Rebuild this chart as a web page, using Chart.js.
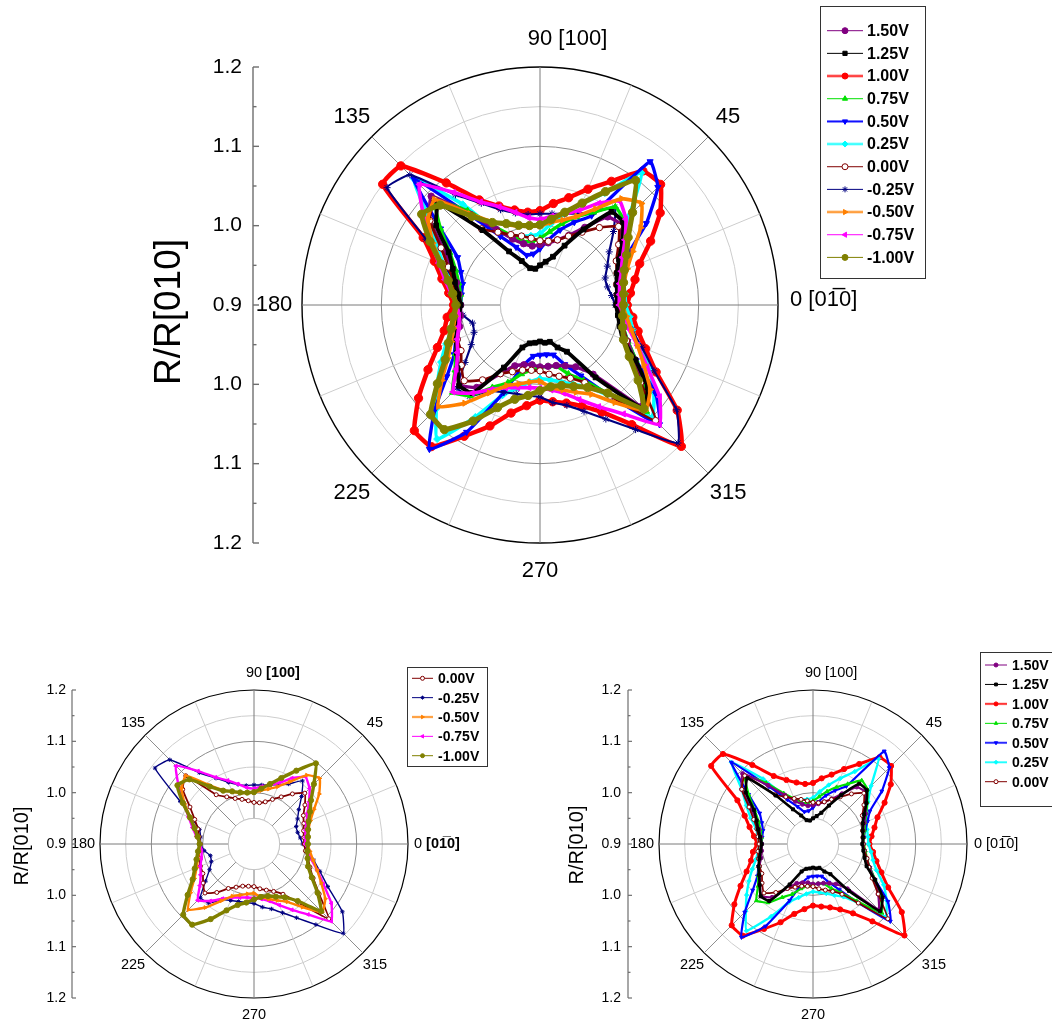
<!DOCTYPE html>
<html><head><meta charset="utf-8">
<script src="https://cdn.jsdelivr.net/npm/chart.js@4.4.1/dist/chart.umd.min.js"></script>
<style>
html,body{margin:0;padding:0;background:#fff;}
#wrap{position:relative;width:1052px;height:1020px;overflow:hidden;background:#fff;}
canvas{position:absolute;left:0;top:0;}
</style></head><body>
<div id="wrap">
<canvas id="cTop" width="1052" height="1020"></canvas>
<canvas id="cBL" width="1052" height="1020"></canvas>
<canvas id="cBR" width="1052" height="1020"></canvas>
</div>
<script>
// ---------------- DATA ----------------
const angles = [0,7.5,15,22.5,30,37.5,45,52.5,60,67.5,75,82.5,90,97.5,105,112.5,120,127.5,135,142.5,150,157.5,165,172.5,180,187.5,195,202.5,210,217.5,225,232.5,240,247.5,255,262.5,270,277.5,285,292.5,300,307.5,315,322.5,330,337.5,345,352.5];
const seriesLabels = ['1.50V','1.25V','1.00V','0.75V','0.50V','0.25V','0.00V','-0.25V','-0.50V','-0.75V','-1.00V'];

const v150  = [0.998,0.999,1.001,1.008,1.018,1.030,1.044,1.040,1.013,0.995,0.985,0.979, 0.976,0.975,0.980,0.990,1.010,1.044,1.094,1.075,1.040,1.020,1.009,1.003, 1.000,1.001,1.005,1.013,1.020,1.030,1.043,1.031,1.000,0.983,0.978,0.976, 0.978,0.978,0.979,0.983,0.990,1.010,1.081,1.060,1.038,1.019,1.008,1.001];
const v125  = [0.996,0.998,1.000,1.005,1.015,1.031,1.048,1.048,1.010,0.981,0.963,0.955, 0.950,0.946,0.948,0.960,0.978,1.019,1.081,1.065,1.033,1.019,1.011,1.004, 1.000,1.003,1.008,1.015,1.021,1.031,1.044,1.040,0.991,0.958,0.950,0.948, 0.946,0.948,0.948,0.958,0.968,1.015,1.085,1.071,1.039,1.013,1.004,0.999];
const v100  = [1.010,1.015,1.024,1.036,1.061,1.091,1.115,1.113,1.080,1.058,1.040,1.029, 1.019,1.018,1.024,1.035,1.053,1.094,1.148,1.150,1.070,1.044,1.028,1.016, 1.009,1.018,1.025,1.040,1.063,1.093,1.124,1.125,1.091,1.065,1.041,1.028, 1.020,1.023,1.028,1.038,1.056,1.090,1.152,1.118,1.069,1.044,1.028,1.018];
const v075  = [0.999,1.000,1.004,1.010,1.020,1.033,1.050,1.056,1.035,1.020,1.006,0.993, 0.984,0.981,0.983,0.995,1.014,1.050,1.088,1.058,1.031,1.015,1.006,1.001, 1.000,1.003,1.006,1.013,1.023,1.035,1.056,1.044,1.020,1.006,0.990,0.983, 0.979,0.978,0.980,0.994,1.010,1.040,1.090,1.065,1.040,1.020,1.009,1.003];
const v050  = [0.998,1.000,1.005,1.015,1.028,1.069,1.110,1.128,1.030,1.013,0.998,0.983, 0.971,0.965,0.965,0.979,1.000,1.041,1.125,1.058,1.020,1.008,1.001,1.000, 1.000,1.003,1.006,1.015,1.025,1.048,1.088,1.129,1.085,1.019,0.978,0.965, 0.963,0.963,0.965,0.981,1.003,1.044,1.113,1.084,1.040,1.020,1.008,1.001];
const v025  = [1.008,1.008,1.009,1.013,1.020,1.035,1.060,1.110,1.063,1.038,1.019,1.003, 0.990,0.988,0.990,0.995,1.006,1.060,1.125,1.075,1.050,1.031,1.015,1.008, 1.005,1.008,1.015,1.028,1.044,1.063,1.085,1.113,1.063,1.023,1.008,0.998, 0.993,0.995,1.000,1.008,1.019,1.045,1.100,1.081,1.059,1.034,1.021,1.014];
const v000  = [0.998,0.998,1.000,1.005,1.011,1.025,1.040,1.023,1.006,0.994,0.985,0.981, 0.981,0.985,0.990,0.996,1.006,1.021,1.088,1.075,1.044,1.025,1.013,1.008, 1.005,1.008,1.010,1.013,1.015,1.025,1.035,1.019,1.000,0.991,0.985,0.983, 0.983,0.988,0.993,1.000,1.013,1.045,1.106,1.060,1.033,1.018,1.009,1.001];
const vm025 = [0.995,0.991,0.988,0.989,0.998,1.010,1.031,1.055,1.035,1.025,1.019,1.016, 1.015,1.015,1.020,1.030,1.048,1.075,1.132,1.143,1.066,1.031,1.010,1.005, 1.004,0.998,0.988,0.990,1.000,1.019,1.048,1.045,1.025,1.019,1.016,1.015, 1.016,1.024,1.031,1.045,1.066,1.098,1.146,1.117,1.066,1.039,1.020,1.006];
const vm050 = [1.004,1.006,1.010,1.019,1.035,1.060,1.081,1.069,1.040,1.021,1.011,1.005, 1.000,1.000,1.003,1.010,1.021,1.045,1.088,1.078,1.056,1.034,1.019,1.010, 1.005,1.008,1.013,1.021,1.034,1.056,1.081,1.056,1.028,1.010,1.003,0.998, 0.996,1.005,1.011,1.019,1.030,1.055,1.088,1.075,1.051,1.033,1.019,1.010];
const vm075 = [1.000,1.001,1.004,1.011,1.020,1.035,1.053,1.065,1.048,1.029,1.019,1.013, 1.008,1.011,1.021,1.034,1.050,1.079,1.115,1.085,1.058,1.038,1.024,1.013, 1.005,1.003,1.006,1.013,1.020,1.033,1.055,1.040,1.023,1.013,1.008,1.005, 1.005,1.008,1.015,1.029,1.048,1.073,1.113,1.090,1.056,1.033,1.016,1.008];
const vm100 = [1.005,1.006,1.009,1.015,1.026,1.040,1.065,1.098,1.065,1.039,1.021,1.009, 1.001,1.001,1.004,1.011,1.020,1.041,1.078,1.088,1.060,1.035,1.020,1.011, 1.006,1.010,1.016,1.025,1.038,1.063,1.095,1.098,1.069,1.040,1.023,1.015, 1.008,1.004,1.005,1.011,1.020,1.040,1.085,1.056,1.030,1.014,1.008,1.005];
const seriesValues = [v150, v125, v100, v075, v050, v025, v000, vm025, vm050, vm075, vm100];

const axisMajorValues = [1.2, 1.1, 1.0, 0.9, 1.0, 1.1, 1.2];
const axisMajorSides  = [-1, -1, -1, 0, 1, 1, 1];
const axisTickLabels  = ['1.2','1.1','1.0','0.9','1.0','1.1','1.2'];
const axisMinorValues = [1.15, 1.05, 0.95];
const angleMarks = [0, 45, 90, 135, 180, 225, 270, 315];
const angleTexts = ['0','45','90','135','180','225','270','315'];
const zeroSuffix = '[01\u03050]';
const ninetySuffix = '[100]';
const axisTitle = 'R/R[010]';

const topSeries = [0,1,2,3,4,5,6,7,8,9,10];
const blSeries  = [6,7,8,9,10];
const brSeries  = [0,1,2,3,4,5,6];

// ---------------- STYLE ----------------
const FONT = "'Liberation Sans', Arial, sans-serif";
Chart.defaults.font.family = FONT;
const styles = [
  {color:'#800080', pt:'circle',   rot:0,   size:1.0,  bw:1.1, thick:false},
  {color:'#000000', pt:'rect',     rot:0,   size:1.05, bw:1.3, thick:false},
  {color:'#ff0000', pt:'circle',   rot:0,   size:1.3,  bw:1.5, thick:true},
  {color:'#00e000', pt:'triangle', rot:0,   size:1.1,  bw:1.1, thick:false},
  {color:'#0000ff', pt:'triangle', rot:180, size:1.1,  bw:1.1, thick:true},
  {color:'#00ffff', pt:'rectRot',  rot:0,   size:1.1,  bw:1.2, thick:true},
  {color:'#800000', pt:'circle',   rot:0,   size:1.0,  bw:0.9, thick:false, fill:'#ffffff'},
  {color:'#000080', pt:'star',     rot:0,   size:1.1,  bw:0.7, thick:false},
  {color:'#ff8000', pt:'triangle', rot:90,  size:1.1,  bw:1.2, thick:true},
  {color:'#ff00ff', pt:'triangle', rot:-90, size:1.1,  bw:1.2, thick:false},
  {color:'#808000', pt:'circle',   rot:0,   size:1.3,  bw:1.7, thick:false}
];
const drawRank = [5, 7, 0, 4, 2, 1, 6, 3, 9, 8, 10];

function hexA(hex, a) {
  const n = parseInt(hex.slice(1), 16);
  return 'rgba(' + ((n >> 16) & 255) + ',' + ((n >> 8) & 255) + ',' + (n & 255) + ',' + a + ')';
}

function drawMarker(ctx, st, x, y, r) {
  ctx.save();
  ctx.fillStyle = st.fill || st.color;
  ctx.strokeStyle = st.color;
  ctx.lineWidth = 1;
  if (Chart.helpers && Chart.helpers.drawPoint) {
    Chart.helpers.drawPoint(ctx, {pointStyle: st.pt, rotation: st.rot, radius: r, borderWidth: 1}, x, y);
  } else {
    ctx.beginPath(); ctx.arc(x, y, r, 0, Math.PI * 2); ctx.fill(); ctx.stroke();
  }
  ctx.restore();
}

const decor = {
  id: 'decor',
  beforeDatasetsDraw(chart, args, o) {
    const s = chart.scales.r, ctx = chart.ctx;
    const r0 = s.getDistanceFromCenterForValue(0.95);
    ctx.save();
    ctx.beginPath(); ctx.arc(s.xCenter, s.yCenter, r0, 0, Math.PI * 2);
    ctx.fillStyle = '#ffffff'; ctx.fill();
    ctx.strokeStyle = '#c4c4c4'; ctx.lineWidth = 1; ctx.stroke();
    ctx.restore();
  },
  afterDraw(chart, args, o) {
    const s = chart.scales.r, ctx = chart.ctx;
    const R = s.drawingArea, cx = s.xCenter, cy = s.yCenter;
    const N = angles.length, step = 360 / N;
    ctx.save();
    ctx.fillStyle = '#000';
    ctx.textBaseline = 'middle';
    const fLab = o.labelSize + 'px ' + FONT;
    const fSuf = (o.boldSuffix ? 'bold ' : '') + o.labelSize + 'px ' + FONT;
    angleMarks.forEach((a, k) => {
      const idx = Math.round((360 - a) / step) % N;
      ctx.font = fLab;
      if (a === 0) {
        const p = s.getPointPosition(idx, R + o.zeroOff);
        ctx.textAlign = 'left';
        ctx.fillText(angleTexts[k], p.x, p.y + o.zeroDy);
        const w = ctx.measureText(angleTexts[k] + ' ').width;
        ctx.font = fSuf;
        ctx.fillText(zeroSuffix, p.x + w, p.y + o.zeroDy);
      } else if (a === 90) {
        const p = s.getPointPosition(idx, R + o.labelOff);
        ctx.textAlign = 'center';
        ctx.fillText(angleTexts[k], p.x, p.y);
        const w = ctx.measureText(angleTexts[k]).width;
        const sp = ctx.measureText(' ').width;
        ctx.font = fSuf;
        ctx.textAlign = 'left';
        ctx.fillText(ninetySuffix, p.x + w / 2 + sp, p.y);
      } else {
        const p = s.getPointPosition(idx, R + o.labelOff);
        ctx.textAlign = 'center';
        ctx.fillText(angleTexts[k], p.x, p.y);
      }
    });
    // left axis
    const ax = cx - R - o.axisOff;
    ctx.strokeStyle = '#6e6e6e';
    ctx.lineWidth = o.axisLW;
    ctx.beginPath(); ctx.moveTo(ax, cy - R); ctx.lineTo(ax, cy + R); ctx.stroke();
    ctx.font = o.tickSize + 'px ' + FONT;
    ctx.textAlign = 'right';
    axisMajorValues.forEach((v, i) => {
      const y = cy + axisMajorSides[i] * s.getDistanceFromCenterForValue(v);
      ctx.beginPath(); ctx.moveTo(ax, y); ctx.lineTo(ax + o.majorLen, y); ctx.stroke();
      ctx.fillText(axisTickLabels[i], ax - o.tickGap, y);
    });
    axisMinorValues.forEach(v => {
      [-1, 1].forEach(sg => {
        const y = cy + sg * s.getDistanceFromCenterForValue(v);
        ctx.beginPath(); ctx.moveTo(ax, y); ctx.lineTo(ax + o.minorLen, y); ctx.stroke();
      });
    });
    // title
    ctx.save();
    ctx.translate(cx - R - o.titleOff, cy + o.titleDy);
    ctx.rotate(-Math.PI / 2);
    ctx.textAlign = 'center';
    ctx.font = o.titleSize + 'px ' + FONT;
    ctx.fillText(axisTitle, 0, 0);
    ctx.restore();
    // legend
    const L = o.legend;
    ctx.strokeStyle = '#333';
    ctx.lineWidth = 1;
    ctx.strokeRect(L.x + 0.5, L.y + 0.5, L.w, L.h);
    ctx.font = 'bold ' + L.fontSize + 'px ' + FONT;
    ctx.textAlign = 'left';
    chart.data.datasets.forEach((ds, i) => {
      const st = styles[ds.sIdx];
      const y = L.row0 + i * L.rowH;
      ctx.save();
      if (st.thick) {
        ctx.strokeStyle = hexA(st.color, 0.45); ctx.lineWidth = L.thickW;
        ctx.beginPath(); ctx.moveTo(L.lx0, y); ctx.lineTo(L.lx1, y); ctx.stroke();
      }
      ctx.strokeStyle = st.color; ctx.lineWidth = 1;
      ctx.beginPath(); ctx.moveTo(L.lx0, y); ctx.lineTo(L.lx1, y); ctx.stroke();
      ctx.restore();
      drawMarker(ctx, st, (L.lx0 + L.lx1) / 2, y, L.mr);
      ctx.fillStyle = '#000';
      ctx.fillText(ds.label, L.tx, y + 1);
    });
    ctx.restore();
  }
};

function makeChart(id, seriesIdx, cfg) {
  const N = angles.length;
  const idxOrder = angles.map((a, i) => (N - i) % N);
  const labels = idxOrder.map(j => String(angles[j]));
  const datasets = seriesIdx.map(si => {
    const st = styles[si];
    return {
      label: seriesLabels[si],
      sIdx: si,
      data: idxOrder.map(j => seriesValues[si][j]),
      borderColor: st.color,
      backgroundColor: st.fill || st.color,
      pointBackgroundColor: st.fill || st.color,
      pointBorderColor: st.color,
      pointBorderWidth: 1,
      borderWidth: cfg.lw * st.bw,
      borderJoinStyle: 'round',
      pointRadius: cfg.pr * st.size,
      pointStyle: st.pt,
      pointRotation: st.rot,
      fill: false,
      tension: 0.12,
      order: 100 - drawRank[si]
    };
  });
  return new Chart(document.getElementById(id), {
    type: 'radar',
    data: {labels, datasets},
    plugins: [decor],
    options: {
      responsive: false,
      animation: false,
      events: [],
      layout: {padding: cfg.padding},
      plugins: {legend: {display: false}, tooltip: {enabled: false}, decor: cfg.decor},
      scales: {
        r: {
          min: 0.9, max: 1.2,
          startAngle: 90,
          ticks: {display: false, stepSize: 0.05},
          pointLabels: {display: false},
          grid: {
            circular: true,
            color: c => {
              const v = c.tick ? Math.round(c.tick.value * 100) : 0;
              return v === 120 ? '#000000' : ((v === 100 || v === 110) ? '#8c8c8c' : '#cdcdcd');
            },
            lineWidth: c => (c.tick && Math.round(c.tick.value * 100) === 120) ? cfg.outerLW : 1
          },
          angleLines: {
            display: true,
            color: c => c.index % 12 === 0 ? '#7a7a7a' : (c.index % 6 === 0 ? '#8e8e8e' : (c.index % 3 === 0 ? '#cdcdcd' : 'rgba(0,0,0,0)')),
            lineWidth: 1
          }
        }
      }
    }
  });
}

makeChart('cTop', topSeries, {
  padding: {left: 302, top: 67, right: 274, bottom: 477},
  lw: 3.0, pr: 3.2, outerLW: 1.4,
  decor: {
    labelSize: 22, boldSuffix: false, labelOff: 28, zeroOff: 12, zeroDy: -5,
    axisOff: 49, axisLW: 1.4, tickSize: 21, tickGap: 11, majorLen: 6, minorLen: 3.5,
    titleOff: 132, titleDy: 7, titleSize: 37,
    legend: {x: 820, y: 6, w: 105, h: 272, row0: 30.7, rowH: 22.67, lx0: 827, lx1: 863, tx: 867, fontSize: 16, mr: 3, thickW: 3}
  }
});
makeChart('cBL', blSeries, {
  padding: {left: 100, top: 690, right: 644, bottom: 22},
  lw: 2.0, pr: 2.0, outerLW: 1.2,
  decor: {
    labelSize: 14.5, boldSuffix: true, labelOff: 17, zeroOff: 6, zeroDy: 0,
    axisOff: 28, axisLW: 1.2, tickSize: 14, tickGap: 6, majorLen: 4, minorLen: 2.5,
    titleOff: 78, titleDy: 2, titleSize: 20,
    legend: {x: 407, y: 667, w: 80, h: 99, row0: 678.3, rowH: 19.35, lx0: 412, lx1: 433, tx: 438, fontSize: 14, mr: 2, thickW: 2.5}
  }
});
makeChart('cBR', brSeries, {
  padding: {left: 659, top: 690, right: 85, bottom: 22},
  lw: 2.0, pr: 2.0, outerLW: 1.2,
  decor: {
    labelSize: 14.5, boldSuffix: false, labelOff: 17, zeroOff: 7, zeroDy: 0,
    axisOff: 31, axisLW: 1.2, tickSize: 14, tickGap: 7, majorLen: 4, minorLen: 2.5,
    titleOff: 82, titleDy: 1, titleSize: 20,
    legend: {x: 980, y: 652, w: 90, h: 154, row0: 665, rowH: 19.45, lx0: 985, lx1: 1007, tx: 1012, fontSize: 14, mr: 2, thickW: 2.5}
  }
});
</script>
</body></html>
